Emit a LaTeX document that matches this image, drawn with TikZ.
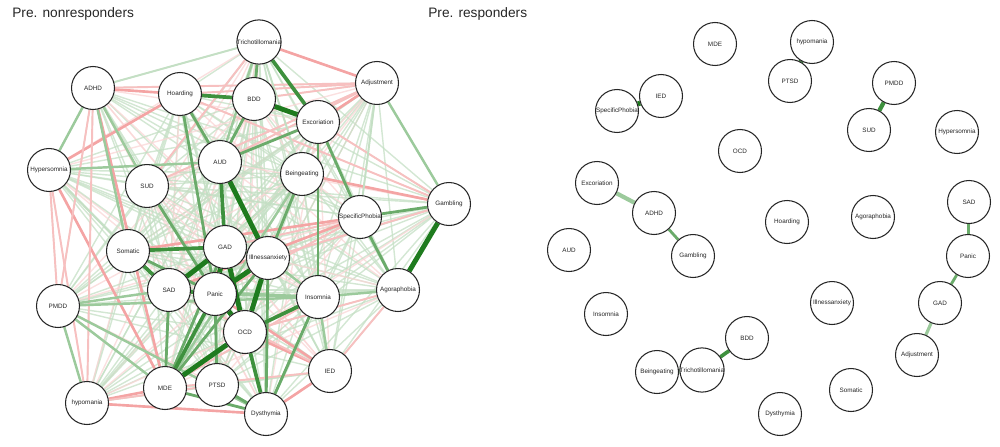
\documentclass[tikz,border=0pt]{standalone}
\usepackage{fontspec}
\setmainfont{Liberation Sans}
\tikzset{ > = stealth }
\usetikzlibrary{backgrounds}

\definecolor{gA}{HTML}{1E7B1E}
\definecolor{gB}{HTML}{3E913E}
\definecolor{gC}{HTML}{6AAB6A}
\definecolor{gD}{HTML}{9CCA9C}
\definecolor{gE}{HTML}{C4DFC4}
\definecolor{rB}{HTML}{F4A4A4}
\definecolor{rC}{HTML}{F7C0C0}
\definecolor{rD}{HTML}{FAD6D6}

\begin{document}
\begin{tikzpicture}
  [
    x = 0.02cm, y = -0.02cm,
    every node/.style = { font = \fontsize{3.6}{4}\selectfont, text = black!85 },
    dnode/.style = { draw = black!85, circle, fill = white, minimum size = 0.86cm, inner sep = 0pt, line width = 0.6pt },
    title/.style = { anchor = west, inner sep = 0pt, font = \fontsize{7.8}{9}\selectfont },
    eA/.style = { draw = gA, line width = 2.8pt },
    eB/.style = { draw = gB, line width = 2.1pt },
    eC/.style = { draw = gC, line width = 1.6pt },
    eD/.style = { draw = gD, line width = 1.4pt },
    eE/.style = { draw = gE, line width = 1.1pt },
    pB/.style = { draw = rB, line width = 1.5pt },
    pC/.style = { draw = rC, line width = 1.1pt },
    faintg/.style = { draw = gE, line width = 0.8pt, opacity = 0.75 },
    faintr/.style = { draw = rD, line width = 0.8pt, opacity = 0.75 }
  ]
  \useasboundingbox (0,0) rectangle (1000,446);

  \node (ltitle) [title] at (12,14) {Pre. nonresponders};
  \node (rtitle) [title] at (428,14) {Pre. responders};

  % Pre. nonresponders
  \node (lTri) [dnode] at (259,42) {Trichotillomania};
  \node (lADHD) [dnode] at (93,88) {ADHD};
  \node (lHoard) [dnode] at (180,94) {Hoarding};
  \node (lBDD) [dnode] at (254,99) {BDD};
  \node (lAdj) [dnode] at (377,83) {Adjustment};
  \node (lExc) [dnode] at (318,122) {Excoriation};
  \node (lAUD) [dnode] at (220,162) {AUD};
  \node (lBinge) [dnode] at (302,174) {Beingeating};
  \node (lHyper) [dnode] at (49,170) {Hypersomnia};
  \node (lSUD) [dnode] at (147,186) {SUD};
  \node (lGamb) [dnode] at (449,204) {Gambling};
  \node (lSpPh) [dnode] at (360,217) {SpecificPhobia};
  \node (lSom) [dnode] at (128,251) {Somatic};
  \node (lGAD) [dnode] at (225,247) {GAD};
  \node (lIll) [dnode] at (268,258) {Illnessanxiety};
  \node (lSAD) [dnode] at (169,290) {SAD};
  \node (lPanic) [dnode] at (215,294) {Panic};
  \node (lInsom) [dnode] at (318,297) {Insomnia};
  \node (lAgora) [dnode] at (398,290) {Agoraphobia};
  \node (lPMDD) [dnode] at (58,306) {PMDD};
  \node (lOCD) [dnode] at (245,332) {OCD};
  \node (lIED) [dnode] at (330,371) {IED};
  \node (lMDE) [dnode] at (165,388) {MDE};
  \node (lPTSD) [dnode] at (217,385) {PTSD};
  \node (lhypo) [dnode] at (87,403) {hypomania};
  \node (lDys) [dnode] at (266,414) {Dysthymia};

  % Pre. responders
  \node (rMDE) [dnode] at (715,44) {MDE};
  \node (rhypo) [dnode] at (812,42) {hypomania};
  \node (rPTSD) [dnode] at (790,81) {PTSD};
  \node (rPMDD) [dnode] at (894,83) {PMDD};
  \node (rIED) [dnode] at (661,96) {IED};
  \node (rSpPh) [dnode] at (617,111) {SpecificPhobia};
  \node (rSUD) [dnode] at (869,130) {SUD};
  \node (rHyper) [dnode] at (957,132) {Hypersomnia};
  \node (rOCD) [dnode] at (740,151) {OCD};
  \node (rExc) [dnode] at (597,183) {Excoriation};
  \node (rADHD) [dnode] at (654,213) {ADHD};
  \node (rSAD) [dnode] at (969,202) {SAD};
  \node (rHoard) [dnode] at (787,222) {Hoarding};
  \node (rAgora) [dnode] at (873,217) {Agoraphobia};
  \node (rAUD) [dnode] at (569,250) {AUD};
  \node (rGamb) [dnode] at (693,256) {Gambling};
  \node (rPanic) [dnode] at (968,256) {Panic};
  \node (rIll) [dnode] at (832,303) {Illnessanxiety};
  \node (rGAD) [dnode] at (940,303) {GAD};
  \node (rInsom) [dnode] at (606,314) {Insomnia};
  \node (rBDD) [dnode] at (747,338) {BDD};
  \node (rAdj) [dnode] at (917,355) {Adjustment};
  \node (rBinge) [dnode] at (657,372) {Beingeating};
  \node (rTri) [dnode] at (702,370) {Trichotillomania};
  \node (rSom) [dnode] at (851,390) {Somatic};
  \node (rDys) [dnode] at (780,414) {Dysthymia};

  \begin{scope}[on background layer]
    % weak edges, all pairs
    \def\lnames{Tri,ADHD,Hoard,BDD,Adj,Exc,AUD,Binge,Hyper,SUD,Gamb,SpPh,Som,GAD,Ill,SAD,Panic,Insom,Agora,PMDD,OCD,IED,MDE,PTSD,hypo,Dys}
    \foreach \a [count=\i] in \lnames {
      \foreach \b [count=\j] in \lnames {
        \ifnum\j>\i
          \pgfmathtruncatemacro\k{mod(\i*5+\j*3,4)}
          \ifnum\k=0 \draw [faintr] (l\a) -- (l\b);
          \else \draw [faintg] (l\a) -- (l\b); \fi
        \fi
      }
    }
    % negative edges
    \foreach \a/\b in {Hoard/Hyper, Hyper/MDE, ADHD/MDE, hypo/MDE, hypo/Dys, IED/OCD,
        IED/Panic, IED/Dys, Adj/Tri, Adj/Exc, SpPh/SAD, SpPh/Som, Gamb/Binge, ADHD/Hoard}
      \draw [pB] (l\a) -- (l\b);
    \foreach \a/\b in {Hyper/PMDD, Hyper/hypo, ADHD/PMDD, ADHD/hypo, hypo/PTSD, IED/MDE,
        IED/SAD, Adj/Hoard, Adj/BDD, Adj/ADHD, Adj/AUD, Adj/SUD, Gamb/Exc, Gamb/Ill,
        Gamb/Hoard, SpPh/Panic, SpPh/GAD, Tri/SUD, Agora/IED, Agora/OCD, Insom/MDE}
      \draw [pC] (l\a) -- (l\b);
    % positive edges
    \foreach \a/\b in {ADHD/Tri, Adj/SpPh, Hyper/Som, Tri/Binge, Binge/SAD}
      \draw [eE] (l\a) -- (l\b);
    \foreach \a/\b in {Insom/Agora, Insom/Ill, Insom/Panic, Insom/SAD, Insom/IED, Adj/Gamb,
        Binge/MDE, ADHD/Hyper, ADHD/SUD, ADHD/Som, Hyper/AUD, PMDD/hypo, PMDD/MDE,
        PMDD/Insom, PMDD/SAD, PMDD/Dys, Tri/AUD}
      \draw [eD] (l\a) -- (l\b);
    \foreach \a/\b in {MDE/GAD, MDE/Ill, PTSD/Panic, Dys/Ill, Dys/Insom, Dys/MDE, Dys/PTSD,
        SAD/MDE, Som/Panic, SpPh/Agora, SpPh/Gamb, Exc/SpPh, Exc/AUD, Exc/Insom,
        BDD/AUD, Hoard/AUD, Hoard/Panic, Tri/BDD, SUD/Panic, Binge/Ill}
      \draw [eC] (l\a) -- (l\b);
    \foreach \a/\b in {MDE/Panic, Dys/OCD, SAD/Som, Som/GAD, Exc/Tri, BDD/Hoard, AUD/GAD,
        SAD/Panic, GAD/Ill, OCD/Insom}
      \draw [eB] (l\a) -- (l\b);
    \foreach \a/\b in {BDD/Exc, OCD/MDE, Gamb/Agora, AUD/Ill, GAD/SAD, Panic/Ill, Ill/OCD,
        GAD/OCD, Panic/OCD, GAD/Panic}
      \draw [eA] (l\a) -- (l\b);

    % responders
    \draw [eA] (rhypo) -- (rPTSD);
    \draw [eA] (rSpPh) -- (rIED);
    \draw [eA] (rBinge) -- (rTri);
    \draw [eB, line width = 2.4pt] (rPMDD) -- (rSUD);
    \draw [eB] (rBDD) -- (rTri);
    \draw [eD, line width = 2.4pt] (rExc) -- (rADHD);
    \draw [eC] (rADHD) -- (rGamb);
    \draw [eC] (rSAD) -- (rPanic);
    \draw [eC] (rPanic) -- (rGAD);
    \draw [eD, line width = 1.8pt] (rGAD) -- (rAdj);
  \end{scope}
\end{tikzpicture}
\end{document}
